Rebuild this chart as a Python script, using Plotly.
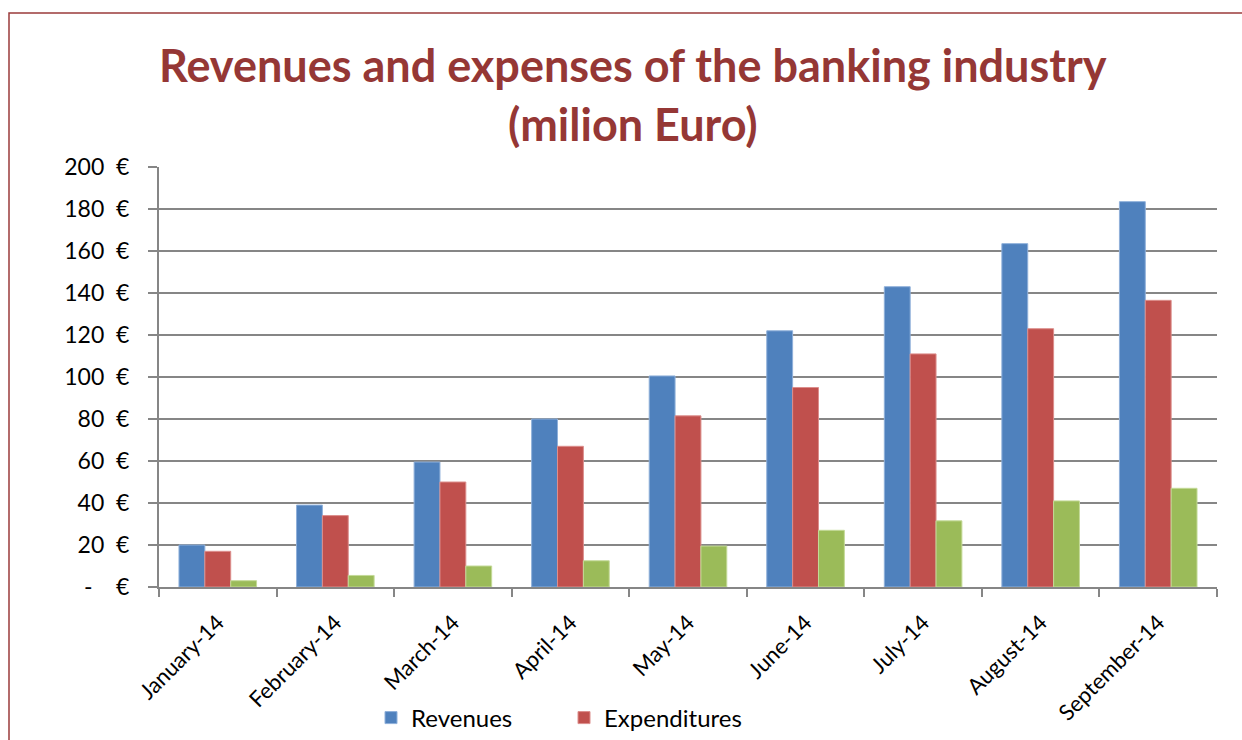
import plotly.graph_objects as go

months = ["January-14", "February-14", "March-14", "April-14", "May-14",
          "June-14", "July-14", "August-14", "September-14"]
revenues = [20, 39, 59.5, 80, 100.5, 122, 143, 163.5, 183.5]
expenditures = [17, 34, 50, 67, 81.5, 95, 111, 123, 136.5]
balance = [3, 5.5, 10, 12.5, 19.5, 27, 31.5, 41, 47]

y_ticks = [0, 20, 40, 60, 80, 100, 120, 140, 160, 180, 200]
nb = "\u00a0"
y_labels = [f"-{nb*4}€"] + [f"{v}{nb*2}€" for v in y_ticks[1:]]

title_lines = ["Revenues and expenses of the banking industry", "(milion Euro)"]

font_family = "Lato, Carlito, 'Open Sans', sans-serif"
title_color = "#953735"

# plot area in pixels: x 159..1217, y 167..587
PLOT_TOP, PLOT_BOTTOM, PLOT_H = 167, 587, 420
PLOT_LEFT, PLOT_W = 159, 1058


def py(p):
    return (PLOT_BOTTOM - p) / PLOT_H


def px(p):
    return (p - PLOT_LEFT) / PLOT_W


fig = go.Figure()
fig.add_trace(go.Bar(x=months, y=revenues, name="Revenues",
                     marker=dict(color="#4F81BD", line=dict(color="#8FB0DA", width=1))))
fig.add_trace(go.Bar(x=months, y=expenditures, name="Expenditures",
                     marker=dict(color="#C0504D", line=dict(color="#DC8E8C", width=1))))
fig.add_trace(go.Bar(x=months, y=balance, name="", showlegend=False,
                     marker=dict(color="#9BBB59", line=dict(color="#C4DA98", width=1))))

annotations = [
    dict(text=f"<b>{title_lines[0]}</b>", x=px(633), y=py(65), xref="paper", yref="paper",
         xanchor="center", yanchor="middle", showarrow=False,
         font=dict(family=font_family, size=45, color=title_color)),
    dict(text=f"<b>{title_lines[1]}</b>", x=px(633), y=py(124), xref="paper", yref="paper",
         xanchor="center", yanchor="middle", showarrow=False,
         font=dict(family=font_family, size=45, color=title_color)),
]

fig.update_layout(
    width=1242, height=740,
    margin=dict(l=159, r=25, t=167, b=153, autoexpand=False),
    paper_bgcolor="white", plot_bgcolor="white",
    barmode="group", bargap=0.34, bargroupgap=0,
    font=dict(family=font_family, color="black"),
    annotations=annotations,
    legend=dict(orientation="h", x=px(371), xanchor="left", y=py(718), yanchor="middle",
                font=dict(size=24), itemwidth=30, traceorder="normal",
                entrywidth=148, entrywidthmode="pixels"),
    showlegend=True,
    shapes=[dict(type="rect", xref="paper", yref="paper",
                 x0=px(9), x1=px(1300), y0=py(800), y1=py(13),
                 line=dict(color="#9B3B3B", width=1.5), layer="below")],
)

fig.update_xaxes(
    type="category", tickangle=-45, tickfont=dict(size=22), automargin=False,
    ticks="outside", tickson="boundaries", ticklen=8, tickcolor="#868686", tickwidth=2,
    ticklabelstandoff=12,
    showline=True, linecolor="#868686", linewidth=2, showgrid=False,
)
fig.update_yaxes(
    range=[0, 200], tickvals=y_ticks, ticktext=y_labels, tickfont=dict(size=23),
    automargin=False,
    ticks="outside", ticklen=9, tickcolor="#868686", tickwidth=2,
    ticklabelstandoff=14,
    showline=True, linecolor="#868686", linewidth=2,
    showgrid=True, gridcolor="#868686", gridwidth=2, zeroline=False,
)

fig.write_html("out.html")
